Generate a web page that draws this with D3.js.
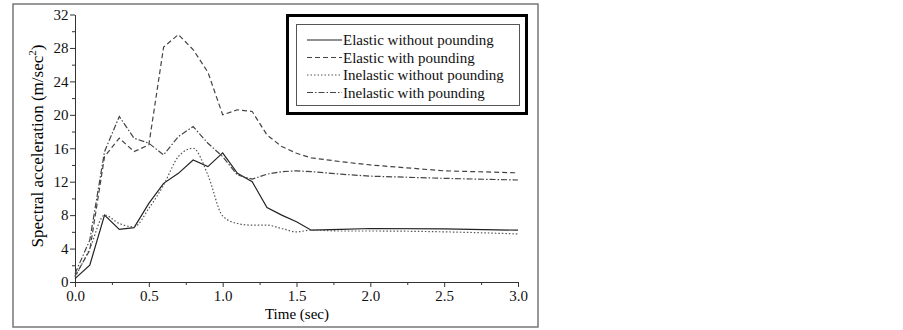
<!DOCTYPE html>
<html>
<head>
<meta charset="utf-8">
<script src="https://cdn.jsdelivr.net/npm/d3@7"></script>
<style>
  body { margin: 0; background: #fff; }
  text { font-family: "Liberation Serif", "DejaVu Serif", serif; }
</style>
</head>
<body>
<svg id="chart" width="903" height="330"></svg>
<script>
// time steps (sec)
var times = [0, 0.1, 0.2, 0.3, 0.4, 0.5, 0.6, 0.7, 0.8, 0.9, 1.0, 1.1, 1.2, 1.3, 1.4, 1.5, 1.6, 1.8, 2.0, 2.5, 3.0];

// spectral acceleration values
var elasticNoPound   = [0.4, 2.0, 8.0, 6.3, 6.5, 9.4, 11.8, 13.0, 14.6, 13.8, 15.45, 13.0, 12.0, 8.9, 8.0, 7.2, 6.2, 6.3, 6.4, 6.35, 6.2];
var elasticPound     = [0.7, 3.8, 15.0, 17.2, 15.6, 16.4, 28.1, 29.6, 27.8, 25.1, 20.0, 20.6, 20.4, 17.6, 16.2, 15.4, 14.85, 14.4, 14.0, 13.3, 13.06];
var inelasticNoPound = [0.6, 4.0, 8.0, 7.0, 6.6, 8.8, 11.6, 15.0, 16.0, 12.8, 7.9, 7.0, 6.8, 6.8, 6.4, 6.0, 6.2, 6.1, 6.1, 6.0, 5.75];
var inelasticPound   = [1.0, 5.0, 15.6, 19.8, 17.2, 16.6, 15.2, 17.4, 18.6, 16.6, 15.0, 12.8, 12.3, 12.9, 13.2, 13.3, 13.2, 12.9, 12.66, 12.4, 12.2];

var seriesNames = ["Elastic without pounding", "Elastic with pounding", "Inelastic without pounding", "Inelastic with pounding"];
var yTicks = [0, 4, 8, 12, 16, 20, 24, 28, 32];
var xTicks = [0, 0.5, 1.0, 1.5, 2.0, 2.5, 3.0];

var series = [elasticNoPound, elasticPound, inelasticNoPound, inelasticPound];
var dashes = [null, "5,3", "1.5,2", "6,2,1.5,2"];
var colors = ["#222", "#444", "#555", "#444"];

var svg = d3.select("#chart");

// outer frame
svg.append("rect")
  .attr("x", 13).attr("y", 4)
  .attr("width", 525).attr("height", 323)
  .attr("fill", "none")
  .attr("stroke", "#777")
  .attr("stroke-width", 1.5);

var x = d3.scaleLinear().domain([0, 3]).range([75, 518]);
var y = d3.scaleLinear().domain([0, 32]).range([282, 14.5]);

// minor ticks
var g = svg.append("g");
g.append("g")
  .attr("transform", "translate(0,282)")
  .call(d3.axisBottom(x).tickValues(d3.range(0.25, 3, 0.5)).tickSize(3).tickFormat(""))
  .call(function(a) { a.select(".domain").remove(); });
g.append("g")
  .attr("transform", "translate(75,0)")
  .call(d3.axisLeft(y).tickValues(d3.range(2, 32, 4)).tickSize(3).tickFormat(""))
  .call(function(a) { a.select(".domain").remove(); });

// x axis
var xAxis = g.append("g")
  .attr("transform", "translate(0,282)")
  .call(d3.axisBottom(x).tickValues(xTicks).tickSize(5).tickSizeOuter(0).tickFormat(d3.format(".1f")));
xAxis.selectAll("text").attr("font-size", 15).attr("fill", "#111").attr("dy", "0.75em");

// y axis
var yAxis = g.append("g")
  .attr("transform", "translate(75,0)")
  .call(d3.axisLeft(y).tickValues(yTicks).tickSize(5).tickSizeOuter(0));
yAxis.selectAll("text").attr("font-size", 15).attr("fill", "#111").attr("dx", "0.1em");

g.selectAll(".domain, .tick line").attr("stroke", "#333");
g.selectAll("text").attr("font-family", "Liberation Serif, serif");

// axis titles
svg.append("text")
  .attr("x", 297).attr("y", 319)
  .attr("text-anchor", "middle")
  .attr("font-size", 15)
  .text("Time (sec)");

var yt = svg.append("text")
  .attr("transform", "translate(43,146) rotate(-90)")
  .attr("text-anchor", "middle")
  .attr("font-size", 17);
yt.append("tspan").text("Spectral acceleration (m/sec");
yt.append("tspan").attr("font-size", 11).attr("dy", -7).text("2");
yt.append("tspan").attr("dy", 7).text(")");

// lines: the inelastic-without-pounding curve looks smoothed, the rest are straight segments
var line = d3.line()
  .x(function(d, i) { return x(times[i]); })
  .y(function(d) { return y(d); });

series.forEach(function(s, k) {
  svg.append("path")
    .datum(s)
    .attr("d", line.curve(k == 2 ? d3.curveMonotoneX : d3.curveLinear))
    .attr("fill", "none")
    .attr("stroke", colors[k])
    .attr("stroke-width", 1.2)
    .attr("stroke-dasharray", dashes[k]);
});

// legend
var lg = svg.append("g");
lg.append("rect")
  .attr("x", 287.5).attr("y", 15.5)
  .attr("width", 239).attr("height", 98)
  .attr("fill", "#fff")
  .attr("stroke", "#000")
  .attr("stroke-width", 3);
lg.append("rect")
  .attr("x", 296.5).attr("y", 24.5)
  .attr("width", 223).attr("height", 81)
  .attr("fill", "none")
  .attr("stroke", "#555")
  .attr("stroke-width", 1);

seriesNames.forEach(function(name, k) {
  var cy = 40 + k * 17.5;
  lg.append("line")
    .attr("x1", 307).attr("x2", 342)
    .attr("y1", cy).attr("y2", cy)
    .attr("stroke", colors[k])
    .attr("stroke-width", 1.2)
    .attr("stroke-dasharray", dashes[k]);
  lg.append("text")
    .attr("x", 343).attr("y", cy + 5)
    .attr("font-size", 15)
    .attr("fill", "#111")
    .text(name);
});
</script>
</body>
</html>
